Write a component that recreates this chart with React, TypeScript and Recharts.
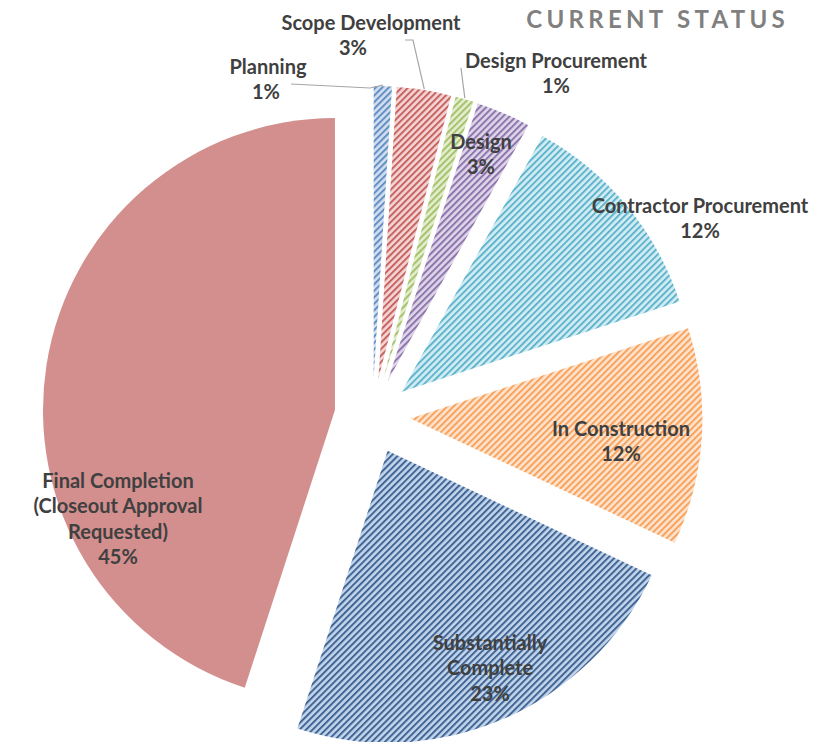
import { PieChart, Pie, Cell, Sector } from 'recharts';

// share of projects by current status (percent)
const categories = [
  'Planning',
  'Scope Development',
  'Design Procurement',
  'Design',
  'Contractor Procurement',
  'In Construction',
  'Substantially\nComplete',
  'Final Completion\n(Closeout Approval\nRequested)',
];
const shares = [1, 3, 1, 3, 12, 12, 23, 45];

const data = categories.map((name, i) => ({ name, value: shares[i] }));

// hatch colours: [stripe, background]; last slice is solid
const COLORS = [
  ['#4F81BD', '#D3DFEF'],
  ['#C0504D', '#F3D6D5'],
  ['#9BBB59', '#E3EDD0'],
  ['#8064A2', '#DED6E9'],
  ['#4BACC6', '#D4EDF4'],
  ['#F79646', '#FDE4D0'],
  ['#2B5285', '#C3D5EC'],
  ['#D38F8E', '#D38F8E'],
];

// label placement (centre of first text line) and leader elbows
const LABELS: { x: number; y: number; pctX?: number; leader?: number[][] }[] = [
  { x: 268, y: 66, pctX: 266, leader: [[291, 84], [370, 88]] },
  { x: 371, y: 22, pctX: 353, leader: [[405, 40], [413, 40]] },
  { x: 556, y: 60, leader: [[461, 68]] },
  { x: 481, y: 141 },
  { x: 700, y: 205 },
  { x: 621, y: 428 },
  { x: 490, y: 642 },
  { x: 118, y: 480 },
];

const RADIAN = Math.PI / 180;
const EXPLODE = 38;
const LINE_H = 25.3;

const renderSlice = (props: any) => {
  const { cx, cy, midAngle, startAngle, endAngle, outerRadius, index, value } = props;
  const ux = Math.cos(-midAngle * RADIAN);
  const uy = Math.sin(-midAngle * RADIAN);
  const sx = cx + EXPLODE * ux;
  const sy = cy + EXPLODE * uy;
  const pos = LABELS[index];
  const lines = categories[index].split('\n');
  const fill = index === COLORS.length - 1 ? COLORS[index][0] : `url(#hatch-${index})`;

  let leader = null;
  if (pos.leader) {
    const ex = sx + (outerRadius + 1) * ux;
    const ey = sy + (outerRadius + 1) * uy;
    const pts = [...pos.leader, [ex, ey]].map((p) => p.join(',')).join(' ');
    leader = <polyline points={pts} fill="none" stroke="#A6A6A6" strokeWidth={1.2} />;
  }

  return (
    <g key={`slice-${index}`}>
      <Sector
        cx={sx}
        cy={sy}
        innerRadius={0}
        outerRadius={outerRadius}
        startAngle={startAngle}
        endAngle={endAngle}
        fill={fill}
        stroke="none"
      />
      {leader}
      <text
        fontFamily="Lato, 'Open Sans', sans-serif"
        fontWeight={700}
        fontSize={20}
        fill="#404040"
        textAnchor="middle"
        dominantBaseline="central"
      >
        {lines.map((l, i) => (
          <tspan key={i} x={pos.x} y={pos.y + i * LINE_H}>
            {l}
          </tspan>
        ))}
        <tspan x={pos.pctX ?? pos.x} y={pos.y + lines.length * LINE_H}>
          {`${value}%`}
        </tspan>
      </text>
    </g>
  );
};

export default function App() {
  return (
    <div style={{ position: 'absolute', left: 0, top: 0, width: 826, height: 742, background: '#fff' }}>
      <PieChart width={826} height={742} margin={{ top: 0, right: 0, bottom: 0, left: 0 }}>
        <defs>
          {COLORS.map(([fg, bg], i) => (
            <pattern
              key={i}
              id={`hatch-${i}`}
              width={4.6}
              height={4.6}
              patternUnits="userSpaceOnUse"
              patternTransform="rotate(45)"
            >
              <rect width={4.6} height={4.6} fill={bg} />
              <rect width={2} height={4.6} fill={fg} opacity={0.85} />
            </pattern>
          ))}
        </defs>
        <text
          x={789}
          y={18}
          textAnchor="end"
          dominantBaseline="central"
          fontFamily="Lato, 'Open Sans', sans-serif"
          fontWeight={700}
          fontSize={24}
          letterSpacing={4.3}
          fill="#808080"
        >
          CURRENT STATUS
        </text>
        <Pie
          data={data}
          dataKey="value"
          nameKey="name"
          cx={372.5}
          cy={416}
          innerRadius={0}
          outerRadius={292}
          startAngle={90}
          endAngle={-270}
          stroke="none"
          labelLine={false}
          label={renderSlice}
          isAnimationActive={false}
        >
          {data.map((entry, index) => (
            <Cell key={`cell-${index}`} fill="transparent" />
          ))}
        </Pie>
      </PieChart>
    </div>
  );
}
